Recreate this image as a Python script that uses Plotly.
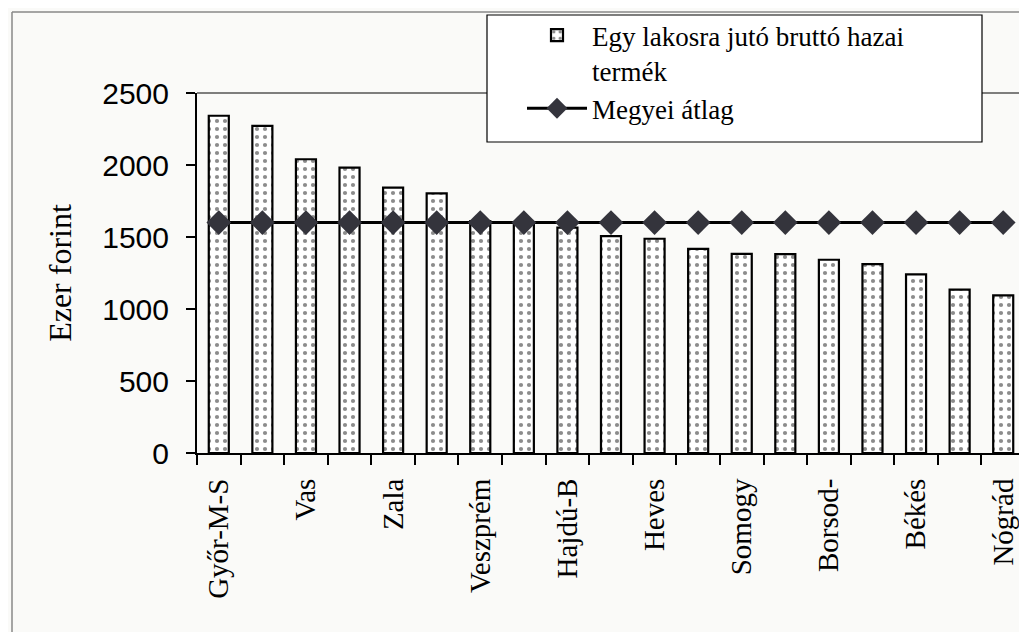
import plotly.graph_objects as go

counties = ["Győr-M-S", "Fejér", "Vas", "Komárom-E", "Zala", "Pest", "Veszprém",
            "Csongrád", "Hajdú-B", "Tolna", "Heves", "Baranya", "Somogy", "Bács-K",
            "Borsod-", "Jász-N-Sz", "Békés", "Szabolcs", "Nógrád"]
gdp_per_capita = [2342, 2272, 2040, 1982, 1843, 1803, 1610, 1590, 1565, 1506,
                  1488, 1418, 1383, 1381, 1342, 1312, 1240, 1135, 1095]
county_average = [1600, 1600, 1600, 1600, 1600, 1600, 1600, 1600, 1600, 1600,
                  1600, 1600, 1600, 1600, 1600, 1600, 1600, 1600, 1600]
tick_labels = [c if i % 2 == 0 else "" for i, c in enumerate(counties)]

SERIF = "Liberation Serif"
SANS = "Liberation Sans"

OFF = 8  # page body margin
W, H = 1027 - OFF, 632 - OFF
L, R, T, B = 197 - OFF, 2, 93 - OFF, 179
PW, PH = W - L - R, H - T - B


def px(x):  # page pixel -> paper fraction
    return (x - OFF - L) / PW


def py(y):
    return (H - B - (y - OFF)) / PH


fig = go.Figure()
fig.add_trace(go.Bar(
    x=counties, y=gdp_per_capita,
    name="Egy lakosra jutó bruttó hazai<br>termék",
    width=0.46,
    marker=dict(color="white", line=dict(color="black", width=2.2),
                pattern=dict(shape=".", size=8, solidity=0.22,
                             fgcolor="#1a1a1a", bgcolor="white")),
))
fig.add_trace(go.Scatter(
    x=counties, y=county_average, name="Megyei átlag",
    mode="lines+markers",
    line=dict(color="black", width=3),
    marker=dict(symbol="diamond", size=19, color="#34343c"),
))

shapes = [
    # outer frame of scanned chart
    dict(type="line", xref="paper", yref="paper", x0=px(12), x1=px(12),
         y0=py(640), y1=py(12), line=dict(color="#888888", width=1.5)),
    dict(type="line", xref="paper", yref="paper", x0=px(12), x1=px(1030),
         y0=py(12), y1=py(12), line=dict(color="#888888", width=1.5)),
    # plot area border (top, right)
    dict(type="line", xref="paper", yref="paper", x0=0, x1=1, y0=1, y1=1,
         line=dict(color="#555555", width=1.5)),
    dict(type="line", xref="paper", yref="paper", x0=1, x1=1, y0=0, y1=1,
         line=dict(color="#555555", width=1.5)),
    # legend box
    dict(type="rect", xref="paper", yref="paper", x0=px(487), x1=px(982),
         y0=py(142), y1=py(15), fillcolor="white",
         line=dict(color="black", width=1.2), layer="above"),
]

fig.update_layout(
    width=W, height=H,
    margin=dict(l=L, r=R, t=T, b=B, pad=0),
    paper_bgcolor="#fafaf8", plot_bgcolor="rgba(0,0,0,0)",
    showlegend=True,
    shapes=shapes,
    legend=dict(x=px(522), y=py(11), xanchor="left", yanchor="top",
                bgcolor="rgba(0,0,0,0)", borderwidth=0,
                font=dict(family=SERIF, size=27, color="black"),
                itemwidth=60, valign="top", tracegroupgap=0),
    xaxis=dict(type="category", range=[-0.5, len(counties) - 0.5],
               tickmode="array", tickvals=counties, ticktext=tick_labels,
               tickson="boundaries", ticks="outside", ticklen=10,
               tickcolor="black", tickwidth=1.5, tickangle=-90,
               tickfont=dict(family=SERIF, size=29, color="black"),
               showline=True, linecolor="black", linewidth=2,
               showgrid=False, zeroline=False, ticklabelstandoff=12),
    yaxis=dict(range=[0, 2500], dtick=500, tick0=0,
               ticks="outside", ticklen=9, tickcolor="black", tickwidth=1.5,
               tickfont=dict(family=SANS, size=30, color="black"),
               showline=True, linecolor="black", linewidth=2,
               showgrid=False, zeroline=False, ticklabelstandoff=11,
               title=dict(text="Ezer forint", standoff=21,
                          font=dict(family=SERIF, size=32, color="black"))),
)

fig.write_html("out.html")
